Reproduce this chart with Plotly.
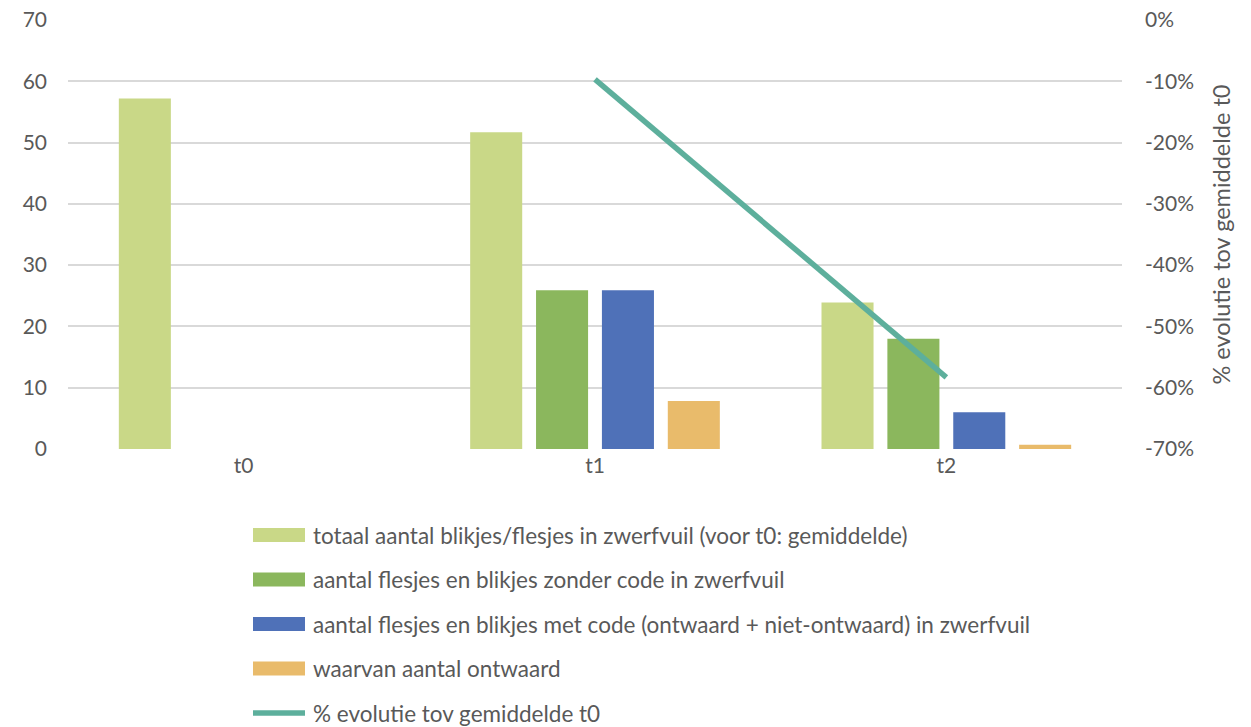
import plotly.graph_objects as go

categories = ["t0", "t1", "t2"]
series_names = [
    "totaal aantal blikjes/flesjes in zwerfvuil (voor t0: gemiddelde)",
    "aantal flesjes en blikjes zonder code in zwerfvuil",
    "aantal flesjes en blikjes met code (ontwaard + niet-ontwaard) in zwerfvuil",
    "waarvan aantal ontwaard",
]
totaal = [57.2, 51.7, 23.9]
zonder_code = [None, 25.9, 18.0]
met_code = [None, 25.9, 6.0]
ontwaard = [None, 7.85, 0.7]
line_name = "% evolutie tov gemiddelde t0"
evolutie = [None, -0.097, -0.583]

y2_tickvals = [0, -0.1, -0.2, -0.3, -0.4, -0.5, -0.6, -0.7]
y2_ticktext = ["0%", "-10%", "-20%", "-30%", "-40%", "-50%", "-60%", "-70%"]

bar_values = [totaal, zonder_code, met_code, ontwaard]
bar_colors = ["#C9D887", "#8BB75D", "#4F71B8", "#E9BB6B"]
line_color = "#5DAF9C"
text_color = "#595959"
FONT = "Lato"
FS_TICK = 21
FS_LEG = 22.5
FS_TITLE = 23.5

W, H = 1251, 727
ML, MR, MT, MB = 68, 129, 20, 278

fig = go.Figure()
for name, vals, col in zip(series_names, bar_values, bar_colors):
    fig.add_trace(go.Bar(x=categories, y=vals, name=name, marker_color=col,
                         marker_line_width=0, showlegend=False))
fig.add_trace(go.Scatter(x=categories, y=evolutie, name=line_name, yaxis="y2",
                         mode="lines", line=dict(color=line_color, width=5.5),
                         showlegend=False))

# manual legend (wide swatches like the original)
plot_h = H - MT - MB
plot_w = W - ML - MR
row0_px, pitch_px = 535, 44.5
sw_x_px, txt_x_px = 253, 311
shapes, annots = [], []
legend_entries = list(zip(series_names, bar_colors)) + [(line_name, line_color)]
for i, (name, col) in enumerate(legend_entries):
    ypx = row0_px + i * pitch_px
    yp = (H - MB - ypx) / plot_h
    xp = (sw_x_px - ML) / plot_w
    if i < len(series_names):
        shapes.append(dict(type="rect", xref="paper", yref="paper",
                           xsizemode="pixel", ysizemode="pixel",
                           xanchor=xp, yanchor=yp, x0=0, x1=52, y0=-7, y1=7,
                           fillcolor=col, line_width=0))
    else:
        shapes.append(dict(type="line", xref="paper", yref="paper",
                           xsizemode="pixel", ysizemode="pixel",
                           xanchor=xp, yanchor=yp, x0=0, x1=52, y0=0, y1=0,
                           line=dict(color=col, width=5.5)))
    annots.append(dict(text=name, xref="paper", yref="paper",
                       x=(txt_x_px - ML) / plot_w, y=yp, xanchor="left",
                       yanchor="middle", showarrow=False,
                       font=dict(family=FONT, size=FS_LEG, color=text_color)))

fig.update_layout(
    width=W, height=H,
    margin=dict(l=ML, r=MR, t=MT, b=MB, autoexpand=False),
    paper_bgcolor="white", plot_bgcolor="white",
    font=dict(family=FONT, size=FS_TICK, color=text_color),
    barmode="group", bargap=0.25, bargroupgap=0.21,
    showlegend=False,
    shapes=shapes, annotations=annots,
    xaxis=dict(type="category", showgrid=False, showline=False, zeroline=False,
               ticks="", ticklabelstandoff=2, automargin=False,
               tickfont=dict(family=FONT, size=FS_TICK, color=text_color)),
    yaxis=dict(range=[0, 70], dtick=10, tick0=0, showgrid=True,
               gridcolor="#D9D9D9", gridwidth=1.5, zeroline=False,
               showline=False, ticks="", ticklabelstandoff=20, automargin=False,
               tickfont=dict(family=FONT, size=FS_TICK, color=text_color)),
    yaxis2=dict(range=[-0.7, 0], tickmode="array", tickvals=y2_tickvals,
                ticktext=y2_ticktext, automargin=False,
                overlaying="y", side="right", showgrid=False, zeroline=False,
                showline=False, ticks="", ticklabelstandoff=22,
                title=dict(text="% evolutie tov gemiddelde t0", standoff=20,
                           font=dict(family=FONT, size=FS_TITLE, color=text_color)),
                tickfont=dict(family=FONT, size=FS_TICK, color=text_color)),
)

fig.write_html("out.html",
               config={"displayModeBar": False},
               post_script="document.body.style.margin='0';"
                           "document.body.style.overflow='hidden';")
